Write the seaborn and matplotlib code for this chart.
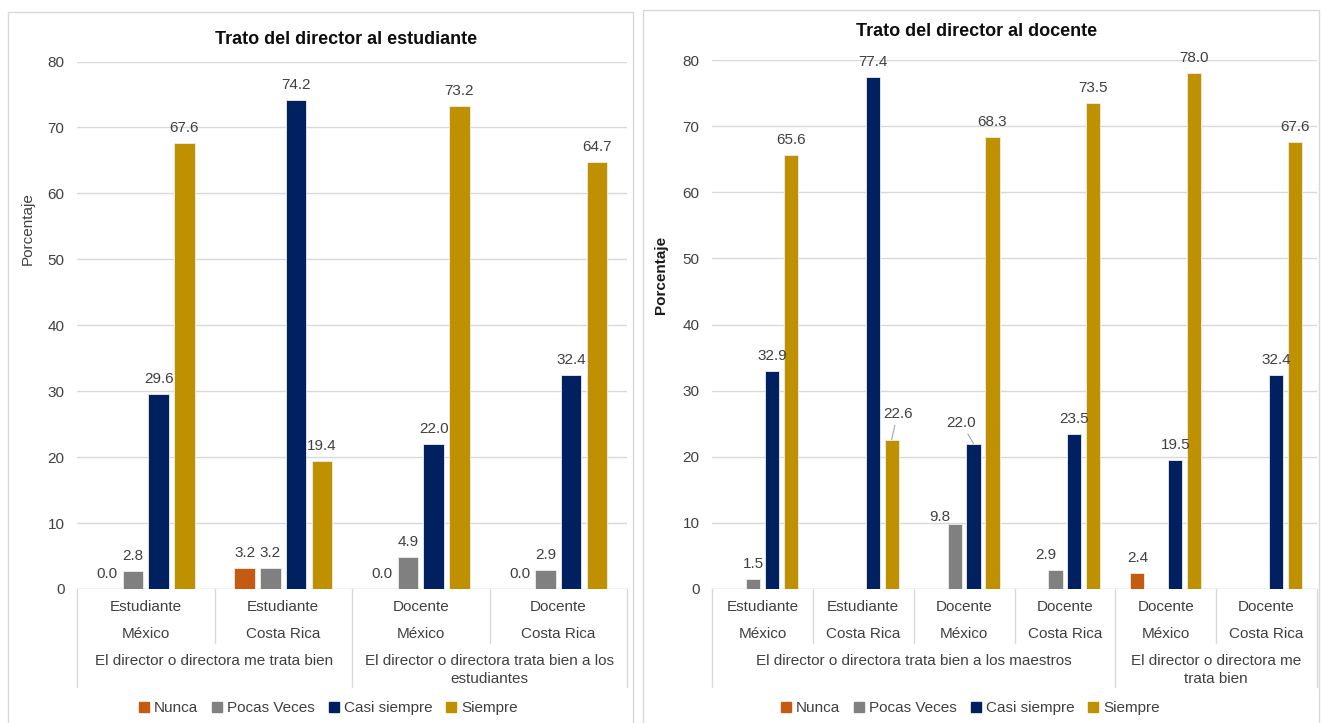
import numpy as np
import pandas as pd
import matplotlib
matplotlib.use("Agg")
import matplotlib.pyplot as plt
import seaborn as sns
from matplotlib.lines import Line2D
from matplotlib.patches import Rectangle
from matplotlib.transforms import blended_transform_factory

# Response categories and their colours
series = ["Nunca", "Pocas Veces", "Casi siempre", "Siempre"]
colors = ["#C55A11", "#808080", "#002060", "#BF9000"]

# Panel 1: treatment of the student
left_roles = ["Estudiante", "Estudiante", "Docente", "Docente"]
left_countries = ["México", "Costa Rica", "México", "Costa Rica"]
left_statements = ["El director o directora me trata bien",
                   "El director o directora trata bien a los\nestudiantes"]
left_spans = [2, 2]
left_nunca = [0.0, 3.2, 0.0, 0.0]
left_pocas = [2.8, 3.2, 4.9, 2.9]
left_casi = [29.6, 74.2, 22.0, 32.4]
left_siempre = [67.6, 19.4, 73.2, 64.7]

# Panel 2: treatment of the teacher (NaN = no answers in that category)
right_roles = ["Estudiante", "Estudiante", "Docente", "Docente", "Docente", "Docente"]
right_countries = ["México", "Costa Rica", "México", "Costa Rica", "México", "Costa Rica"]
right_statements = ["El director o directora trata bien a los maestros",
                    "El director o directora me\ntrata bien"]
right_spans = [4, 2]
right_nunca = [np.nan, np.nan, np.nan, np.nan, 2.4, np.nan]
right_pocas = [1.5, np.nan, 9.8, 2.9, np.nan, np.nan]
right_casi = [32.9, 77.4, 22.0, 23.5, 19.5, 32.4]
right_siempre = [65.6, 22.6, 68.3, 73.5, 78.0, 67.6]

W, H = 1321, 723
GRID = "#D9D9D9"
TXT = "#404040"
FS = 11

sns.set_theme(style="white")
plt.rcParams["font.family"] = ["Liberation Sans", "DejaVu Sans"]

fig = plt.figure(figsize=(W / 100, H / 100), dpi=100)
fig.patch.set_facecolor("white")


def fx(px):
    return px / W


def fy(py):
    return 1 - py / H


def draw_panel(box, axrect, roles, countries, statements, spans, values,
               title, title_xy, ylabel, ylabel_xy, ylabel_weight, legend_x,
               gap, nudges):
    # outer frame of the panel
    x0, y0, x1, y1 = box
    fig.add_artist(Rectangle((fx(x0), fy(y1)), fx(x1) - fx(x0), fy(y0) - fy(y1),
                             transform=fig.transFigure, fill=False,
                             edgecolor=GRID, lw=1))
    l, t, r, b = axrect
    ax = fig.add_axes([fx(l), fy(b), fx(r) - fx(l), fy(t) - fy(b)])
    ax.patch.set_alpha(0)

    n = len(roles)
    keys = [str(i) for i in range(n)]
    rows = []
    for s, vals in zip(series, values):
        for k, v in zip(keys, vals):
            if not np.isnan(v):
                rows.append({"grupo": k, "respuesta": s, "valor": v})
    df = pd.DataFrame(rows)
    sns.barplot(data=df, x="grupo", y="valor", hue="respuesta", order=keys,
                hue_order=series, palette=colors, saturation=1, width=0.75,
                gap=gap, errorbar=None, edgecolor="#EDEDED", linewidth=0.6,
                legend=False, ax=ax, zorder=3)

    ax.set_ylim(0, 80)
    ax.set_xlim(-0.5, n - 0.5)
    ax.set_yticks(range(0, 81, 10))
    ax.yaxis.grid(True, color=GRID, lw=1)
    ax.xaxis.grid(False)
    ax.set_axisbelow(True)
    for sp in ax.spines.values():
        sp.set_visible(False)
    ax.axhline(0, color=GRID, lw=1, zorder=2)
    ax.set_xticks([])
    ax.set_xlabel("")
    ax.set_ylabel("")
    ax.tick_params(axis="y", length=0, pad=9, labelsize=FS, labelcolor=TXT)

    # value labels
    for s_idx, cont in enumerate(ax.containers):
        for bar in cont:
            h = bar.get_height()
            if np.isnan(h):
                continue
            xc = bar.get_x() + bar.get_width() / 2
            g = int(round(xc))
            dx, dy, leader = nudges.get((series[s_idx], g), (0, 15, False))
            kw = {}
            if leader:
                kw["arrowprops"] = dict(arrowstyle="-", color="#A6A6A6",
                                        lw=0.8, shrinkA=1, shrinkB=0)
            ax.annotate(f"{h:.1f}", xy=(xc, h), xytext=(dx * 0.72, dy * 0.72),
                        textcoords="offset points", ha="center", va="center",
                        fontsize=FS, color=TXT, zorder=5, **kw)

    # multi-level category axis
    tr = blended_transform_factory(ax.transData, fig.transFigure)
    for i in range(n):
        ax.text(i, fy(607), roles[i], transform=tr, ha="center", va="center",
                fontsize=FS, color=TXT)
        ax.text(i, fy(634), countries[i], transform=tr, ha="center", va="center",
                fontsize=FS, color=TXT)
    start = 0
    bounds = [-0.5]
    for st, span in zip(statements, spans):
        ax.text(start + (span - 1) / 2, fy(654), st, transform=tr, ha="center",
                va="top", fontsize=FS, color=TXT, linespacing=1.35)
        start += span
        bounds.append(start - 0.5)
    for bpos in np.arange(-0.5, n, 1.0):
        bottom = 687 if any(abs(bpos - q) < 1e-6 for q in bounds) else 643
        ax.plot([bpos, bpos], [fy(b), fy(bottom)], transform=tr, color=GRID,
                lw=1, clip_on=False)

    fig.text(fx(title_xy[0]), fy(title_xy[1]), title, ha="center", va="center",
             fontsize=13, fontweight="bold", color="#0D0D0D")
    fig.text(fx(ylabel_xy[0]), fy(ylabel_xy[1]), ylabel, rotation=90,
             ha="center", va="center", fontsize=FS, fontweight=ylabel_weight,
             color=TXT if ylabel_weight == "normal" else "#1A1A1A")

    handles = [Line2D([], [], marker="s", ls="", color=c, markersize=6.5)
               for c in colors]
    fig.legend(handles, series, loc="center", bbox_to_anchor=(fx(legend_x), fy(708)),
               ncol=4, frameon=False, handlelength=0.7, handletextpad=0.3,
               columnspacing=0.9, fontsize=FS, labelcolor=TXT,
               borderaxespad=0, borderpad=0)
    return ax


draw_panel((8, 12, 633, 730), (77, 61.5, 627, 589),
           left_roles, left_countries, left_statements, left_spans,
           [left_nunca, left_pocas, left_casi, left_siempre],
           "Trato del director al estudiante", (346, 40),
           "Porcentaje", (28, 229), "normal", 328, 0.2, {})

draw_panel((643, 10, 1319, 730), (712, 60, 1317, 589),
           right_roles, right_countries, right_statements, right_spans,
           [right_nunca, right_pocas, right_casi, right_siempre],
           "Trato del director al docente", (977, 32),
           "Porcentaje", (661, 275), "bold", 970, 0.25,
           {("Siempre", 1): (6, 26, True),
            ("Casi siempre", 2): (-12.5, 21, True),
            ("Pocas Veces", 2): (-14.5, 7, False),
            ("Pocas Veces", 3): (-10, 15, False)})

fig.savefig("out.png", dpi=100, facecolor="white")
